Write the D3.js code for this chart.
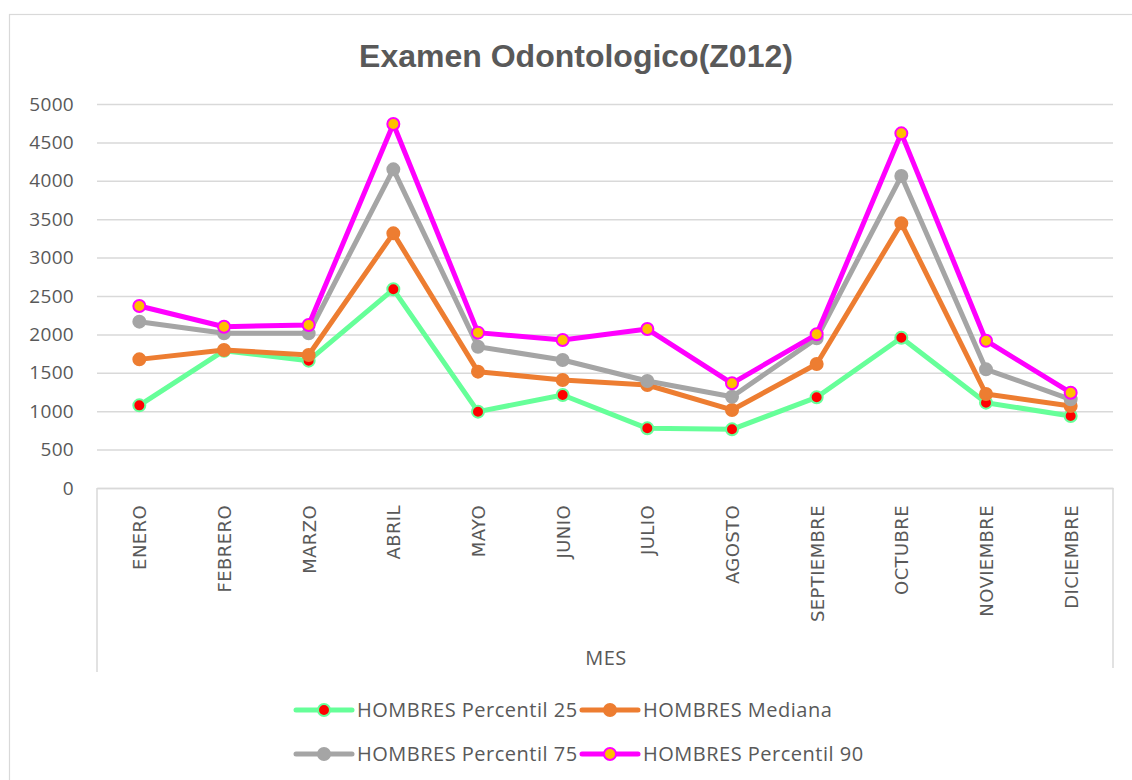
<!DOCTYPE html>
<html>
<head>
<meta charset="utf-8">
<script src="https://cdn.jsdelivr.net/npm/d3@7/dist/d3.min.js"></script>
<style>
  html, body { margin: 0; padding: 0; background: #fff; }
  svg { display: block; }
</style>
</head>
<body>
<svg id="chart" width="1132" height="780"></svg>
<script>
const months = ["ENERO","FEBRERO","MARZO","ABRIL","MAYO","JUNIO","JULIO","AGOSTO","SEPTIEMBRE","OCTUBRE","NOVIEMBRE","DICIEMBRE"];
const p25     = [1076, 1788, 1658, 2587,  994, 1211,  777,  764, 1181, 1957, 1111,  938];
const mediana = [1675, 1797, 1732, 3316, 1515, 1406, 1341, 1016, 1615, 3446, 1224, 1068];
const p75     = [2166, 2014, 2014, 4149, 1840, 1667, 1393, 1189, 1949, 4062, 1545, 1155];
const p90     = [2370, 2100, 2122, 4740, 2023, 1927, 2070, 1363, 2001, 4618, 1918, 1241];
const yTicks  = [0, 500, 1000, 1500, 2000, 2500, 3000, 3500, 4000, 4500, 5000];

const series = [
  { name: "HOMBRES Percentil 25", values: p25,     line: "#66FF99", fill: "#FF0000", stroke: "#66FF99" },
  { name: "HOMBRES Mediana",      values: mediana, line: "#ED7D31", fill: "#ED7D31", stroke: "#ED7D31" },
  { name: "HOMBRES Percentil 75", values: p75,     line: "#A5A5A5", fill: "#A5A5A5", stroke: "#A5A5A5" },
  { name: "HOMBRES Percentil 90", values: p90,     line: "#FF00FF", fill: "#FFC000", stroke: "#FF00FF" }
];

(function () {
const svg = d3.select("#chart");
const textColor = "#595959";
const gridColor = "#D9D9D9";
const pLeft = 97, pRight = 1113, pTop = 104, pBottom = 488;

// outer border
svg.append("rect").attr("x", 9.5).attr("y", 14.5).attr("width", 1140).attr("height", 800)
  .attr("fill", "#fff").attr("stroke", gridColor).attr("stroke-width", 1.2);

// title
svg.append("text").attr("x", 576).attr("y", 67).attr("text-anchor", "middle")
  .attr("font-family", "Liberation Sans, Arial, sans-serif").attr("font-weight", "bold")
  .attr("font-size", 32).attr("fill", textColor).text("Examen Odontologico(Z012)");

const x = d3.scalePoint().domain(months).range([pLeft, pRight]).padding(0.5);
const y = d3.scaleLinear().domain([0, 5000]).range([pBottom, pTop]);

// gridlines + y labels via axis
const yAxis = d3.axisLeft(y).tickValues(yTicks).tickFormat(d3.format("d"))
  .tickSize(-(pRight - pLeft)).tickPadding(23);
const yg = svg.append("g").attr("transform", `translate(${pLeft},0)`).call(yAxis);
yg.select(".domain").remove();
yg.selectAll(".tick line").attr("stroke", gridColor).attr("stroke-width", 1.5);
yg.selectAll(".tick text").attr("font-family", "Open Sans, sans-serif").attr("font-size", 19)
  .attr("letter-spacing", 0.3).attr("fill", textColor);

// category box
svg.append("line").attr("x1", pLeft).attr("x2", pLeft).attr("y1", pBottom).attr("y2", 672)
  .attr("stroke", gridColor).attr("stroke-width", 1.5);
svg.append("line").attr("x1", pRight).attr("x2", pRight).attr("y1", pBottom).attr("y2", 668)
  .attr("stroke", gridColor).attr("stroke-width", 1.5);

// x labels via axis
const xAxis = d3.axisBottom(x).tickSize(0);
const xg = svg.append("g").attr("transform", `translate(0,${pBottom})`).call(xAxis);
xg.select(".domain").attr("stroke", gridColor).attr("stroke-width", 1.5);
xg.selectAll(".tick text")
  .attr("font-family", "DejaVu Sans, sans-serif").attr("font-size", 18).attr("fill", textColor)
  .attr("letter-spacing", 0.4)
  .attr("text-anchor", "end").attr("transform", "rotate(-90)")
  .attr("x", -17).attr("y", 0).attr("dy", "0.36em");

// axis title
svg.append("text").attr("x", 606).attr("y", 665).attr("text-anchor", "middle")
  .attr("font-family", "Open Sans, sans-serif").attr("font-size", 20).attr("letter-spacing", 0.5)
  .attr("fill", textColor).text("MES");

// lines
const line = d3.line().x((d, i) => x(months[i])).y(d => y(d));
series.forEach(s => {
  svg.append("path").datum(s.values).attr("d", line).attr("fill", "none")
    .attr("stroke", s.line).attr("stroke-width", 5).attr("stroke-linejoin", "round");
  svg.append("g").selectAll("circle").data(s.values).join("circle")
    .attr("cx", (d, i) => x(months[i])).attr("cy", d => y(d)).attr("r", 6)
    .attr("fill", s.fill).attr("stroke", s.stroke).attr("stroke-width", 2);
});

// legend
const legendPos = [[296, 710], [582, 710], [296, 754], [582, 754]];
series.forEach((s, i) => {
  const [lx, ly] = legendPos[i];
  const g = svg.append("g").attr("transform", `translate(${lx},${ly})`);
  g.append("line").attr("x1", 0).attr("x2", 56).attr("y1", 0).attr("y2", 0)
    .attr("stroke", s.line).attr("stroke-width", 5).attr("stroke-linecap", "round");
  g.append("circle").attr("cx", 28).attr("cy", 0).attr("r", 6)
    .attr("fill", s.fill).attr("stroke", s.stroke).attr("stroke-width", 2);
  g.append("text").attr("x", 61).attr("y", 0).attr("dy", "0.36em")
    .attr("font-family", "Open Sans, sans-serif").attr("font-size", 20).attr("letter-spacing", 0.5)
    .attr("fill", textColor).text(s.name);
});
})();
</script>
</body>
</html>
